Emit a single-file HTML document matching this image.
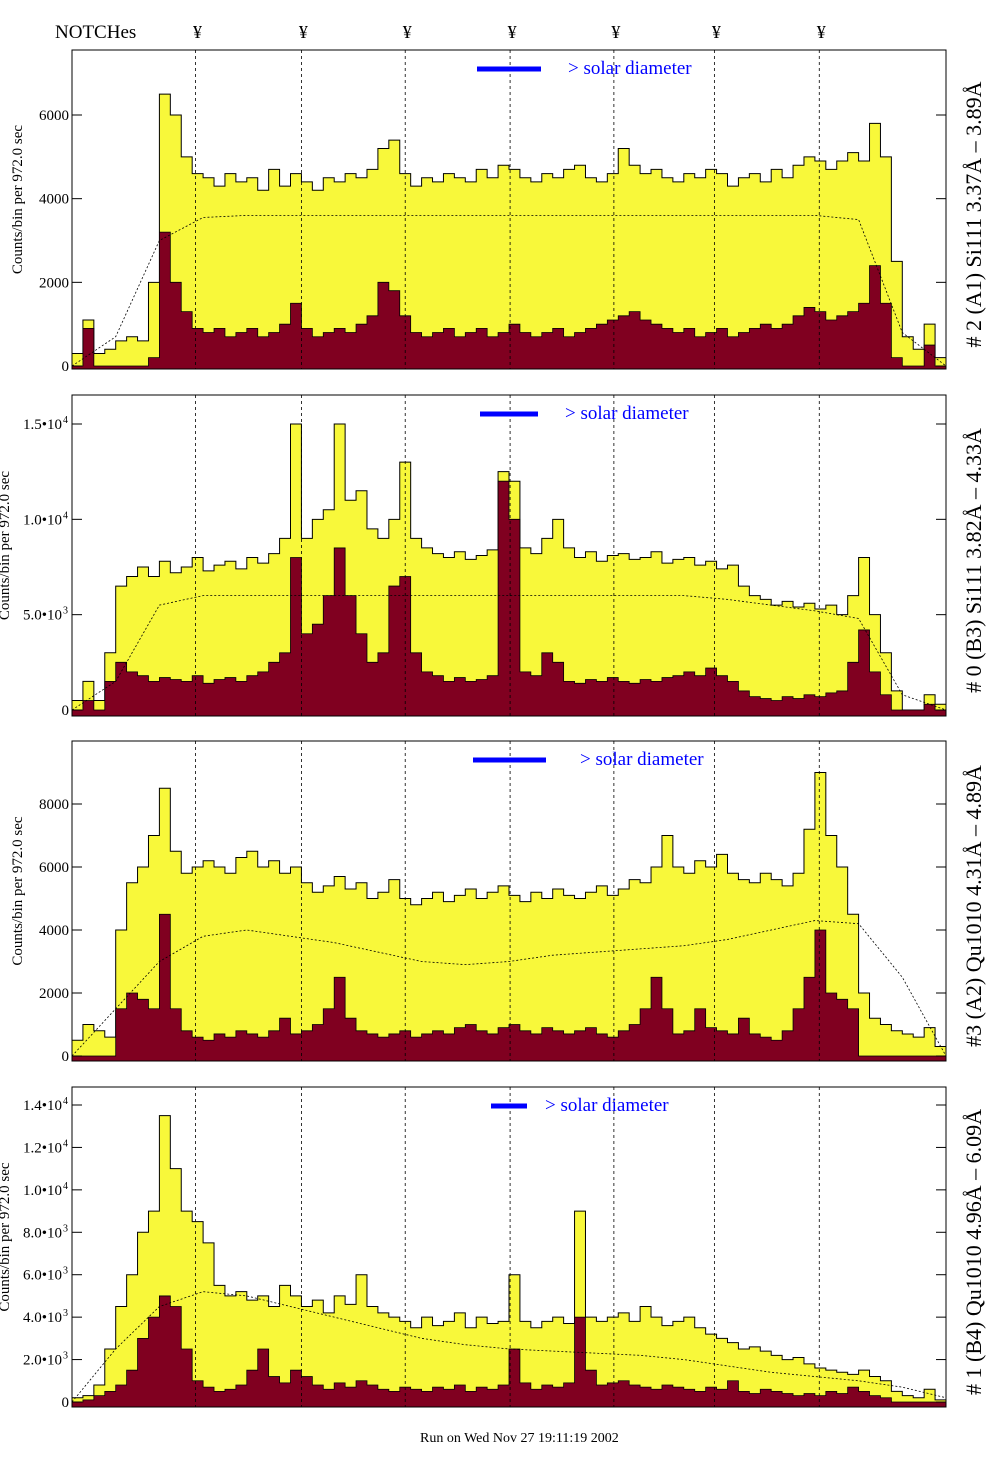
<!DOCTYPE html>
<html><head><meta charset="utf-8">
<style>
html,body{margin:0;padding:0;background:#fff;}
svg{display:block;font-family:"Liberation Serif",serif;}
</style></head>
<body>
<svg id="chart" width="1004" height="1476" viewBox="0 0 1004 1476" xmlns="http://www.w3.org/2000/svg">
<rect width="1004" height="1476" fill="#fff"/>
<text x="55" y="38" font-size="19">NOTCHes</text>
<g id="notchmarks"></g>
<g id="panels"></g>
<text x="420" y="1442" font-size="14">Run on Wed Nov 27 19:11:19 2002</text>
</svg>
<script>
const notchLabels = ["¥","¥","¥","¥","¥","¥","¥"];
const notchBins = [11.3,21,30.5,40.1,49.6,58.8,68.4];

const p1Yellow=[300,1100,300,400,600,700,600,2000,6500,6000,5000,4600,4500,4300,4600,4400,4500,4200,4700,4300,4600,4400,4200,4500,4400,4600,4500,4700,5200,5400,4600,4300,4500,4400,4600,4500,4400,4700,4500,4800,4700,4500,4400,4600,4500,4700,4800,4500,4400,4600,5200,4800,4600,4700,4500,4400,4600,4500,4700,4600,4300,4500,4600,4400,4700,4500,4800,5000,4900,4700,4900,5100,4900,5800,5000,2500,700,400,1000,200];
const p1Red=[0,900,0,0,0,0,0,200,3200,2000,1300,900,800,900,700,800,900,700,800,1000,1500,900,700,800,900,800,1000,1200,2000,1800,1200,800,700,800,900,700,800,900,700,800,1000,800,700,800,900,700,800,900,1000,1100,1200,1300,1100,1000,900,800,900,700,800,900,700,800,900,1000,900,1000,1200,1400,1300,1100,1200,1300,1500,2400,1500,200,0,0,500,0];
const p1Fit=[0,700,3000,3550,3600,3600,3600,3600,3600,3600,3600,3600,3600,3600,3600,3600,3600,3600,3500,800,0];

const p2Yellow=[500,1500,500,3000,6500,7000,7500,7000,7800,7200,7500,8000,7300,7600,7800,7400,8000,7700,8200,9000,15000,9000,10000,10500,15000,11000,11500,9500,9000,10000,13000,9000,8500,8200,8000,8300,7900,8100,8400,12500,12000,8500,8200,9000,10000,8500,8000,8300,7800,8100,8200,7900,8000,8300,7700,7900,8000,7600,7800,7400,7600,6500,6000,5800,5500,5700,5400,5600,5300,5500,5000,6000,8000,5000,3000,1000,0,0,800,300];
const p2Red=[0,500,0,1500,2500,2000,1800,1500,1700,1600,1500,1800,1400,1600,1700,1500,1800,2000,2500,3000,8000,4000,4500,6000,8500,6000,4000,2500,3000,6500,7000,3000,2000,1800,1500,1700,1500,1600,1800,12000,10000,2000,1800,3000,2500,1500,1400,1600,1500,1700,1500,1400,1600,1500,1700,1800,2000,1800,2200,1800,1500,1000,700,600,500,700,600,800,700,900,1000,2500,4200,2000,800,0,0,0,300,0];
const p2Fit=[0,1500,5500,6000,6000,6000,6000,6000,6000,6000,6000,6000,6000,6000,6000,5800,5500,5200,4800,800,0];

const p3Yellow=[500,1000,800,600,4000,5500,6000,7000,8500,6500,5800,6000,6200,6000,5800,6300,6500,6000,6200,5800,6000,5500,5200,5400,5700,5300,5500,5000,5200,5600,5000,4800,5000,5200,4900,5100,5300,5000,5200,5400,5100,4900,5200,5000,5300,5100,5000,5200,5400,5100,5300,5600,5500,6000,7000,6000,5800,6200,6000,6400,5800,5600,5500,5800,5600,5400,5800,7200,9000,7000,6000,4500,2000,1200,1000,800,700,600,900,300];
const p3Red=[0,0,0,0,1500,2000,1800,1500,4500,1500,800,600,500,700,600,800,700,600,800,1200,700,800,1000,1500,2500,1200,800,700,600,700,800,600,700,800,700,900,1000,800,700,900,1000,800,700,900,800,700,800,900,700,600,800,1000,1500,2500,1500,700,800,1500,900,800,700,1200,700,600,500,800,1500,2500,4000,2000,1800,1500,0,0,0,0,0,0,0,0];
const p3Fit=[0,1500,3000,3800,4000,3800,3600,3300,3000,2900,3000,3200,3300,3400,3500,3700,4000,4300,4200,2500,0];

const p4Yellow=[200,300,800,2500,4500,6000,8000,9000,13500,11000,9000,8500,7500,5500,5000,5200,4800,5000,4500,5500,5000,4500,4800,4200,5000,4600,6000,4500,4200,4000,3800,3500,4000,3600,3800,4200,3500,4000,3700,3800,6000,3800,3500,3800,4000,3700,9000,4000,3800,4000,4200,3800,4500,4000,3600,3800,4000,3500,3200,3000,2800,2500,2600,2400,2200,2000,2100,1800,1600,1500,1400,1300,1500,1200,1000,500,300,200,600,100];
const p4Red=[0,100,300,500,800,1500,3000,4000,5000,4500,2500,1000,700,500,600,800,1500,2500,1200,900,1500,1200,800,600,900,700,1000,800,600,500,700,600,500,700,600,800,500,700,600,800,2500,900,600,800,700,900,4000,1500,800,900,1000,800,700,600,800,700,600,500,700,600,1000,500,400,600,500,400,300,400,300,500,400,700,500,300,200,0,0,0,0,0];
const p4Fit=[0,2500,4500,5200,5000,4500,4000,3500,3000,2700,2500,2400,2300,2200,2000,1700,1400,1200,1000,700,200];

const p1Ticks=[0,2000,4000,6000], p1TickLabels=["0","2000","4000","6000"];
const p2Ticks=[0,5000,10000,15000], p2TickLabels=["0","5.0•10","1.0•10","1.5•10"], p2Exp=["","3","4","4"];
const p3Ticks=[0,2000,4000,6000,8000], p3TickLabels=["0","2000","4000","6000","8000"];
const p4Ticks=[0,2000,4000,6000,8000,10000,12000,14000], p4TickLabels=["0","2.0•10","4.0•10","6.0•10","8.0•10","1.0•10","1.2•10","1.4•10"], p4Exp=["","3","3","3","3","4","4","4"];
const titles=["# 2 (A1) Si111  3.37Å – 3.89Å","# 0 (B3) Si111  3.82Å – 4.33Å","#3 (A2) Qu1010  4.31Å – 4.89Å","# 1 (B4) Qu1010 4.96Å – 6.09Å"];

const NS="http://www.w3.org/2000/svg";
const X0=72, X1=946, NB=80;
function xs(b){return X0+b*(X1-X0)/NB;}
function mk(tag,attrs,parent){const e=document.createElementNS(NS,tag);for(const k in attrs)e.setAttribute(k,attrs[k]);parent.appendChild(e);return e;}

const nm=document.getElementById('notchmarks');
notchLabels.forEach((t,i)=>{
  const e=mk('text',{x:xs(notchBins[i])+2,y:38,'font-size':18,'text-anchor':'middle'},nm);
  
  
  e.textContent=t;
});

const panels=[
 {top:50,bot:369,y0:366,k:251/6000,yel:p1Yellow,red:p1Red,fit:p1Fit,ticks:p1Ticks,labels:p1TickLabels,exp:null,leg:[477,541,568],tx:22},
 {top:395,bot:716,y0:710,k:286/15000,yel:p2Yellow,red:p2Red,fit:p2Fit,ticks:p2Ticks,labels:p2TickLabels,exp:p2Exp,leg:[480,538,565],tx:9},
 {top:741,bot:1061,y0:1056,k:252/8000,yel:p3Yellow,red:p3Red,fit:p3Fit,ticks:p3Ticks,labels:p3TickLabels,exp:null,leg:[473,546,580],tx:22},
 {top:1087,bot:1407,y0:1402,k:297/14000,yel:p4Yellow,red:p4Red,fit:p4Fit,ticks:p4Ticks,labels:p4TickLabels,exp:p4Exp,leg:[491,527,545],tx:9}
];
const root=document.getElementById('panels');
panels.forEach((P,pi)=>{
  const g=mk('g',{},root);
  
  
  const ys=v=>Math.max(P.top,P.y0-v*P.k);
  function stepPath(arr){
    let d='M'+xs(0)+','+P.bot;
    arr.forEach((v,i)=>{d+=' L'+xs(i)+','+ys(v)+' L'+xs(i+1)+','+ys(v);});
    d+=' L'+xs(NB)+','+P.bot+' Z';return d;
  }
  const yel=mk('path',{d:stepPath(P.yel),fill:'#f8f83a',stroke:'#000','stroke-width':1},g);
  
  
  const red=mk('path',{d:stepPath(P.red),fill:'#800020',stroke:'#000','stroke-width':0.8},g);
  
  
  let fd='';P.fit.forEach((v,i)=>{fd+=(i?' L':'M')+xs(i*4)+','+ys(v);});
  const fit=mk('path',{d:fd,fill:'none',stroke:'#000','stroke-width':0.8,'stroke-dasharray':'2,2'},g);
  
  
  notchBins.forEach(b=>{
    const l=mk('line',{x1:xs(b),x2:xs(b),y1:P.top,y2:P.bot,stroke:'#000','stroke-width':0.8,'stroke-dasharray':'3,3'},g);
    
    
  });
  const fr=mk('rect',{x:X0,y:P.top,width:X1-X0,height:P.bot-P.top,fill:'none',stroke:'#000','stroke-width':1},g);
  
  
  P.ticks.forEach((t,i)=>{
    const y=P.y0-t*P.k;
    mk('line',{x1:X0,x2:X0+10,y1:y,y2:y,stroke:'#000'},g);
    mk('line',{x1:X1-10,x2:X1,y1:y,y2:y,stroke:'#000'},g);
    const tx=mk('text',{x:P.exp&&P.exp[i]?62:69,y:y+5,'font-size':15,'text-anchor':'end'},g);
    
    
    tx.textContent=P.labels[i];
    if(P.exp&&P.exp[i]){const s=mk('text',{x:63,y:y-1,'font-size':10},g);s.textContent=P.exp[i];}
  });
  const cy=(P.top+P.bot)/2;
  const yt=mk('text',{x:0,y:0,'font-size':15,'text-anchor':'middle',transform:`translate(${P.tx},${cy-10}) rotate(-90)`},g);
  
  
  yt.setAttribute('xml:space','preserve');
  yt.textContent='Counts/bin per      972.0 sec';
  const rt=mk('text',{x:0,y:0,'font-size':22,'text-anchor':'middle',transform:`translate(981,${cy+5}) rotate(-90)`},g);
  
  
  rt.textContent=titles[pi];
  const ll=mk('line',{x1:P.leg[0],x2:P.leg[1],y1:P.top+19,y2:P.top+19,stroke:'#0000ff','stroke-width':5},g);
  
  
  const lt=mk('text',{x:P.leg[2],y:P.top+24,'font-size':19,fill:'#0000ff'},g);
  
  
  lt.textContent='> solar diameter';
});
</script>
</body></html>
